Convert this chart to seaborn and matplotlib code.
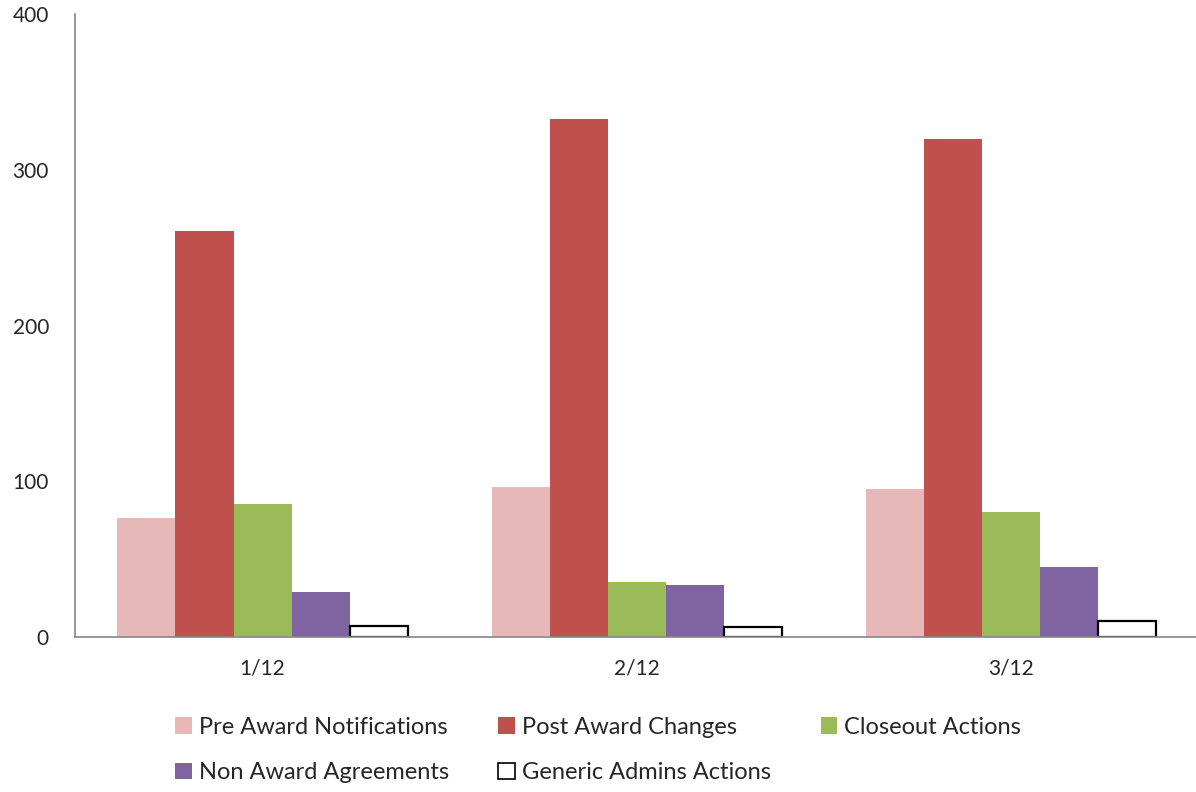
import pandas as pd
import seaborn as sns
import matplotlib.pyplot as plt
from matplotlib.patches import Patch

# data
months = ["1/12", "2/12", "3/12"]
series = ["Pre Award Notifications", "Post Award Changes", "Closeout Actions",
          "Non Award Agreements", "Generic Admins Actions"]
pre_award = [76, 96, 95]
post_award = [261, 333, 320]
closeout = [85, 35, 80]
non_award = [29, 33, 45]
generic_admin = [7, 6, 10]
colors = ["#E6B9B8", "#C0504D", "#9BBB59", "#8064A2", "#FFFFFF"]
y_ticks = [0, 100, 200, 300, 400]

values = [pre_award, post_award, closeout, non_award, generic_admin]
rows = []
for name, vals in zip(series, values):
    for m, v in zip(months, vals):
        rows.append({"month": m, "series": name, "count": v})
df = pd.DataFrame(rows)

sns.set_style("white")
plt.rcParams['font.family'] = ['Lato', 'DejaVu Sans']

fig = plt.figure(figsize=(11.96, 7.92), dpi=100)
ax = fig.add_axes([0.063, 0.196, 0.939, 0.786])

sns.barplot(data=df, x="month", y="count", hue="series", hue_order=series,
            order=months, palette=colors, width=0.775, gap=0, saturation=1,
            edgecolor="none", linewidth=0, legend=False, ax=ax)

# generic admin bars are hollow with a black outline
for bar in ax.containers[4]:
    bar.set_edgecolor("black")
    bar.set_linewidth(1.6)

ax.set_xlim(-0.5, 2.5)
ax.set_ylim(0, 400)
ax.set_yticks(y_ticks)
ax.set_xlabel("")
ax.set_ylabel("")
ax.tick_params(axis="y", length=0, pad=19, labelsize=15)
ax.tick_params(axis="x", length=0, pad=16, labelsize=15)

sns.despine(ax=ax)
for side in ["left", "bottom"]:
    ax.spines[side].set_color("#868686")
    ax.spines[side].set_linewidth(1.2)

handles = []
for c in colors:
    ec = "black" if c == "#FFFFFF" else "none"
    handles.append(Patch(facecolor=c, edgecolor=ec, linewidth=1.2))
# reorder so the legend reads row by row
order = [0, 3, 1, 4, 2]
fig.legend([handles[i] for i in order], [series[i] for i in order],
           loc="center", bbox_to_anchor=(0.5, 0.053), ncol=3, frameon=False,
           fontsize=17, handlelength=0.7, handleheight=0.7, handletextpad=0.3,
           columnspacing=2.1, labelspacing=1.05)

plt.savefig("out.png", dpi=100)
